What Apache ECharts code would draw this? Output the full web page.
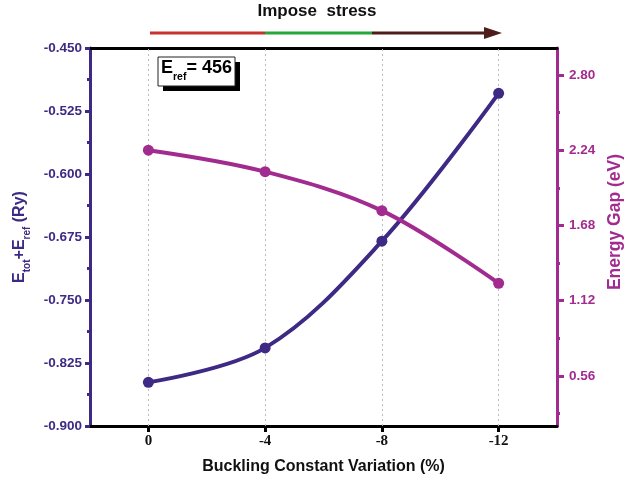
<!DOCTYPE html>
<html><head><meta charset="utf-8">
<script src="https://cdn.jsdelivr.net/npm/echarts@6/dist/echarts.min.js"></script>
<style>html,body{margin:0;padding:0;background:#fff}#c{width:634px;height:485px}</style>
</head><body><div id="c"></div>
<script>
const xValues = [0, -4, -8, -12];
const xTickLabels = ['0', '-4', '-8', '-12'];
const energy = [-0.848, -0.807, -0.680, -0.504];
const gap = [2.24, 2.08, 1.79, 1.25];
const gapTicks = [0.56, 1.12, 1.68, 2.24, 2.80];
const gapMinorTicks = [0.28, 0.84, 1.40, 1.96, 2.52];

const PURPLE = '#3e2a84';
const MAG = '#a22b8f';
const chart = echarts.init(document.getElementById('c'));
const boldSans = 'Liberation Sans';
chart.setOption({
  animation: false,
  grid: {left: 90, right: 77, top: 48, bottom: 59},
  xAxis: [{
    type: 'value', inverse: true, min: -14, max: 2,
    name: 'Buckling Constant Variation (%)', nameLocation: 'middle', nameGap: 33,
    nameTextStyle: {fontFamily: boldSans, fontWeight: 'bold', fontSize: 16, color: '#111'},
    axisLine: {show: true, onZero: false, lineStyle: {color: '#000', width: 3}},
    axisTick: {show: true, customValues: xValues, length: 6, lineStyle: {color: '#000', width: 3}},
    axisLabel: {customValues: xValues, formatter: v => xTickLabels[xValues.indexOf(v)] ?? '',
      fontFamily: 'Liberation Serif', fontWeight: 'bold', fontSize: 15, color: '#111', margin: 8},
    splitLine: {show: false}
  }, {
    type: 'value', inverse: true, min: -14, max: 2, position: 'top',
    axisLine: {show: true, onZero: false, lineStyle: {color: '#000', width: 3}},
    axisTick: {show: false}, axisLabel: {show: false}, splitLine: {show: false}
  }],
  yAxis: [{
    type: 'value', min: -0.9, max: -0.45, interval: 0.075, position: 'left',
    name: '{a|E}{s|tot}{a|+E}{s|ref}{a| (Ry)}', nameLocation: 'middle', nameGap: 58, nameRotate: 90,
    nameTextStyle: {color: PURPLE, fontFamily: boldSans, fontWeight: 'bold', fontSize: 16,
      rich: {
        a: {color: PURPLE, fontFamily: boldSans, fontWeight: 'bold', fontSize: 16, lineHeight: 20, verticalAlign: 'top'},
        s: {color: PURPLE, fontFamily: boldSans, fontWeight: 'bold', fontSize: 10, lineHeight: 20, verticalAlign: 'bottom', padding: [10, 0, 0, 0]}
      }},
    axisLine: {show: true, onZero: false, lineStyle: {color: PURPLE, width: 3}},
    axisTick: {show: true, length: 5, lineStyle: {color: PURPLE, width: 3}},
    minorTick: {show: true, splitNumber: 2, length: 3, lineStyle: {color: PURPLE, width: 3}},
    axisLabel: {formatter: v => v.toFixed(3), color: PURPLE, fontFamily: boldSans, fontWeight: 'bold', fontSize: 13.5, margin: 8},
    splitLine: {show: false}
  }, {
    type: 'value', min: 0.188, max: 3.0, position: 'right',
    name: 'Energy Gap (eV)', nameLocation: 'middle', nameGap: 38, nameRotate: 90,
    nameTextStyle: {color: MAG, fontFamily: boldSans, fontWeight: 'bold', fontSize: 17.5, padding: [0, 0, 0, 30]},
    axisLine: {show: true, onZero: false, lineStyle: {color: MAG, width: 3}},
    axisTick: {show: true, customValues: gapTicks, length: 7, lineStyle: {color: MAG, width: 3}},
    axisLabel: {customValues: gapTicks, formatter: v => v.toFixed(2), color: MAG, fontFamily: boldSans, fontWeight: 'bold', fontSize: 13.5, margin: 12},
    splitLine: {show: false}
  }, {
    type: 'value', min: 0.188, max: 3.0, position: 'right',
    axisLine: {show: false, onZero: false},
    axisTick: {show: true, customValues: gapMinorTicks, length: 3, lineStyle: {color: MAG, width: 3}},
    axisLabel: {show: false}, splitLine: {show: false}
  }],
  series: [{
    type: 'line', xAxisIndex: 0, yAxisIndex: 0, data: [], z: 1,
    markLine: {silent: true, symbol: 'none', label: {show: false}, z: 1,
      lineStyle: {color: '#bbb', type: [2, 3], width: 1},
      data: xValues.map(x => ({xAxis: x}))}
  }, {
    type: 'line', xAxisIndex: 0, yAxisIndex: 0, smooth: 0.35,
    data: xValues.map((x, i) => [x, energy[i]]),
    symbol: 'circle', symbolSize: 11,
    lineStyle: {color: PURPLE, width: 4}, itemStyle: {color: PURPLE, borderWidth: 0},
    z: 3
  }, {
    type: 'line', xAxisIndex: 0, yAxisIndex: 1, smooth: 0.35,
    data: xValues.map((x, i) => [x, gap[i]]),
    symbol: 'circle', symbolSize: 11,
    lineStyle: {color: MAG, width: 4}, itemStyle: {color: MAG, borderWidth: 0},
    z: 4
  }],
  graphic: [
    {type: 'text', left: 'center', top: 3, style: {text: 'Impose  stress', fontFamily: boldSans, fontWeight: 'bold', fontSize: 17, fill: '#111'}},
    {type: 'line', shape: {x1: 150, y1: 33, x2: 265, y2: 33}, style: {stroke: '#c8322e', lineWidth: 3}},
    {type: 'line', shape: {x1: 265, y1: 33, x2: 372, y2: 33}, style: {stroke: '#25a83a', lineWidth: 3}},
    {type: 'line', shape: {x1: 372, y1: 33, x2: 488, y2: 33}, style: {stroke: '#4e1c1a', lineWidth: 3}},
    {type: 'polygon', shape: {points: [[484, 27], [502, 33], [484, 39]]}, style: {fill: '#4e1c1a'}},
    {type: 'rect', shape: {x: 163, y: 62, width: 77, height: 29}, style: {fill: '#000'}},
    {type: 'rect', shape: {x: 158, y: 57, width: 77, height: 29}, style: {fill: '#fff', stroke: '#222', lineWidth: 1}},
    {type: 'text', x: 161, y: 59, style: {
      text: '{a|E}{s|ref}{a|= 456}',
      rich: {
        a: {fontFamily: boldSans, fontWeight: 'bold', fontSize: 18, fill: '#000', lineHeight: 24, verticalAlign: 'top'},
        s: {fontFamily: boldSans, fontWeight: 'bold', fontSize: 10.5, fill: '#000', lineHeight: 24, verticalAlign: 'bottom', padding: [9, 0, 0, 0]}
      }}}
  ]
});
</script></body></html>
